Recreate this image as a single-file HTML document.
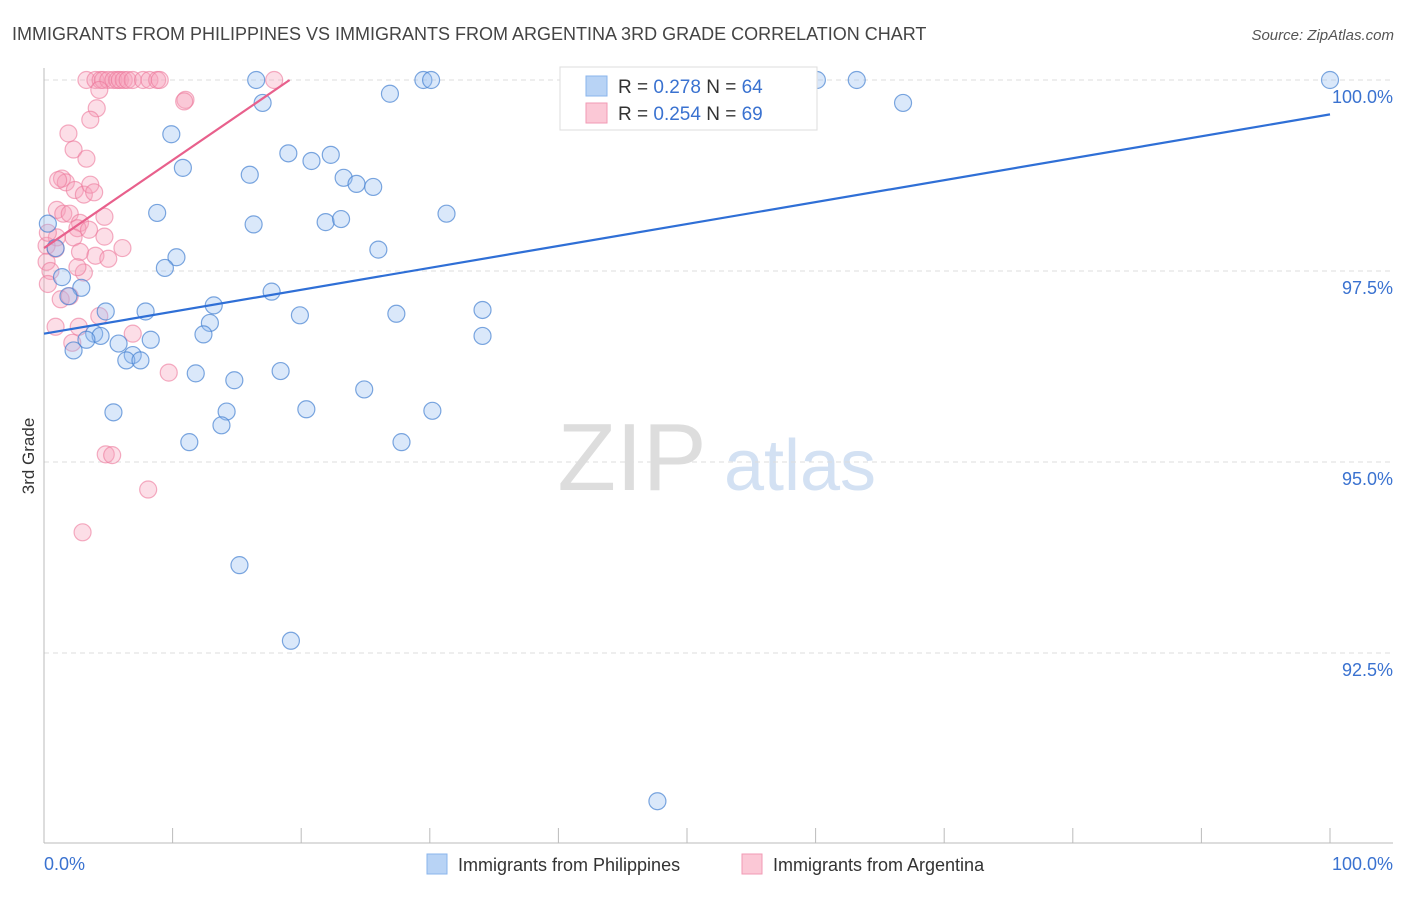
<!DOCTYPE html>
<html><head><meta charset="utf-8"><style>
body{margin:0;background:#fff;font-family:"Liberation Sans",sans-serif;}
svg text{font-family:"Liberation Sans",sans-serif;}
</style></head><body>
<svg id="chart" width="1406" height="892" xmlns="http://www.w3.org/2000/svg">
<text x="12" y="40" font-size="18" fill="#444">IMMIGRANTS FROM PHILIPPINES VS IMMIGRANTS FROM ARGENTINA 3RD GRADE CORRELATION CHART</text>
<text x="1394" y="40" font-size="15" fill="#555" text-anchor="end" font-style="italic">Source: ZipAtlas.com</text>
<text x="34" y="456" font-size="17" fill="#333" text-anchor="middle" transform="rotate(-90 34 456)">3rd Grade</text>
<g>
<text x="632" y="490" font-size="96" fill="#ddd" text-anchor="middle" font-family="Liberation Serif">ZIP</text>
<text x="800" y="490" font-size="72" fill="#d3e1f3" text-anchor="middle">atlas</text>
</g>
<g id="grid"></g><g id="axes"></g><g id="pts"></g><g id="trends"></g>
<g>
<rect x="560" y="67" width="257" height="63" fill="#fff" stroke="#ddd"/>
<rect x="586" y="76" width="21" height="20" fill="#b8d3f5" stroke="#8ab4ec"/>
<rect x="586" y="103" width="21" height="20" fill="#fbc8d6" stroke="#f19ab4"/>
<text x="618" y="93" font-size="19" fill="#333">R = <tspan fill="#3a72d0">0.278</tspan>    N = <tspan fill="#3a72d0">64</tspan></text>
<text x="618" y="120" font-size="19" fill="#333">R = <tspan fill="#3a72d0">0.254</tspan>    N = <tspan fill="#3a72d0">69</tspan></text>
</g>
<g>
<rect x="427" y="854" width="20" height="20" fill="#b8d3f5" stroke="#8ab4ec"/>
<text x="458" y="871" font-size="18" fill="#333">Immigrants from Philippines</text>
<rect x="742" y="854" width="20" height="20" fill="#fbc8d6" stroke="#f19ab4"/>
<text x="773" y="871" font-size="18" fill="#333">Immigrants from Argentina</text>
</g>
</svg>
<script>
const yTicks=[100,97.5,95,92.5];
const yTickLabels=["100.0%","97.5%","95.0%","92.5%"];
const xTickLabels=["0.0%","100.0%"];
const blueX=[16.5,29.5,30.1,60.1,63.2,100,17,26.9,66.8,9.9,10.8,19,20.8,22.3,16,23.3,24.3,25.6,8.8,31.3,16.3,21.9,23.1,26,0.9,0.3,10.3,9.4,1.4,2.9,1.9,17.7,4.8,7.9,13.2,19.9,27.4,34.1,12.9,12.4,3.9,4.4,3.3,5.8,8.3,34.1,2.3,6.9,6.4,7.5,11.8,18.4,14.8,24.9,5.4,14.2,20.4,30.2,13.8,11.3,27.8,15.2,19.2,47.7];
const blueY=[100,100,100,100,100,100,99.7,99.82,99.7,99.29,98.85,99.04,98.94,99.02,98.76,98.72,98.64,98.6,98.26,98.25,98.11,98.14,98.18,97.78,97.8,98.12,97.68,97.54,97.42,97.28,97.17,97.23,96.97,96.97,97.05,96.92,96.94,96.99,96.82,96.67,96.68,96.65,96.6,96.55,96.6,96.65,96.46,96.4,96.33,96.33,96.16,96.19,96.07,95.95,95.65,95.66,95.69,95.67,95.48,95.26,95.26,93.65,92.66,90.56];
const pinkX=[3.3,4,4.4,4.6,5,5.4,5.7,5.9,6.2,6.5,6.9,7.7,8.2,8.8,9,17.9,4.3,11,10.9,4.1,3.6,1.9,2.3,3.3,1.4,1.7,1.1,2.4,3.1,3.6,3.9,1,1.5,2,4.7,2.8,2.6,1,2.3,3.5,4.7,0.2,0.9,2.8,6.1,4,5,0.2,0.5,3.1,0.3,1.3,2,2.7,2.2,4.3,6.9,9.7,4.8,5.3,8.1,3,0.9,2.6,0.3];
const pinkY=[100,100,100,100,100,100,100,100,100,100,100,100,100,100,100,100,99.87,99.74,99.72,99.63,99.48,99.3,99.09,98.97,98.71,98.66,98.69,98.56,98.5,98.63,98.53,98.3,98.25,98.25,98.21,98.13,98.06,97.94,97.94,98.04,97.95,97.83,97.79,97.75,97.8,97.7,97.66,97.62,97.5,97.48,97.33,97.13,97.17,96.77,96.56,96.91,96.68,96.17,95.1,95.09,94.64,94.08,96.77,97.55,98.0];
const trendBlue=[96.68,99.55];
const trendPink=[97.8,100];
const trendPinkX=[0,19.1];
const X=v=>44+v*12.86, Y=v=>80+(100-v)/2.5*191;
const ns="http://www.w3.org/2000/svg";
function mk(t,a,p){const e=document.createElementNS(ns,t);for(const k in a)e.setAttribute(k,a[k]);p.appendChild(e);return e;}
const grid=document.getElementById('grid'),axes=document.getElementById('axes');
yTicks.forEach((t,i)=>{
 const l=mk('line',{x1:44,x2:1393,y1:Y(t),y2:Y(t),stroke:'#ddd','stroke-dasharray':'5,4'},grid);
 
 
 const tx=mk('text',{x:1393,y:Y(t)+23,'font-size':18,fill:'#3a72d0','text-anchor':'end'},axes);
 tx.textContent=yTickLabels[i];
 
 
});
const ax=mk('line',{x1:44,x2:44,y1:68,y2:843,stroke:'#bbb'},axes);


const bx=mk('line',{x1:44,x2:1393,y1:843,y2:843,stroke:'#bbb'},axes);


for(let i=0;i<=10;i++){const tk=mk('line',{x1:X(i*10),x2:X(i*10),y1:828,y2:843,stroke:'#bbb'},axes);
 
 }
[[0,'start'],[100,'end']].forEach((d,i)=>{const t=mk('text',{x:i?1393:44,y:870,'font-size':18,fill:'#3a72d0','text-anchor':d[1]},axes);t.textContent=xTickLabels[i];
 
 });
const pts=document.getElementById('pts');
pinkX.forEach((x,i)=>{const c=mk('circle',{cx:X(x),cy:Y(pinkY[i]),r:8.5,fill:'rgba(246,160,186,0.35)',stroke:'rgba(236,120,155,0.6)','stroke-width':1.2},pts);
 
 });
blueX.forEach((x,i)=>{const c=mk('circle',{cx:X(x),cy:Y(blueY[i]),r:8.5,fill:'rgba(150,190,240,0.35)',stroke:'rgba(70,130,210,0.7)','stroke-width':1.2},pts);
 
 });
const tr=document.getElementById('trends');
const lb=mk('line',{x1:X(0),y1:Y(trendBlue[0]),x2:X(100),y2:Y(trendBlue[1]),stroke:'#2f6fd6','stroke-width':2.2},tr);


const lp=mk('line',{x1:X(trendPinkX[0]),y1:Y(trendPink[0]),x2:X(trendPinkX[1]),y2:Y(trendPink[1]),stroke:'#e8608c','stroke-width':2.2},tr);


</script>
</body></html>
